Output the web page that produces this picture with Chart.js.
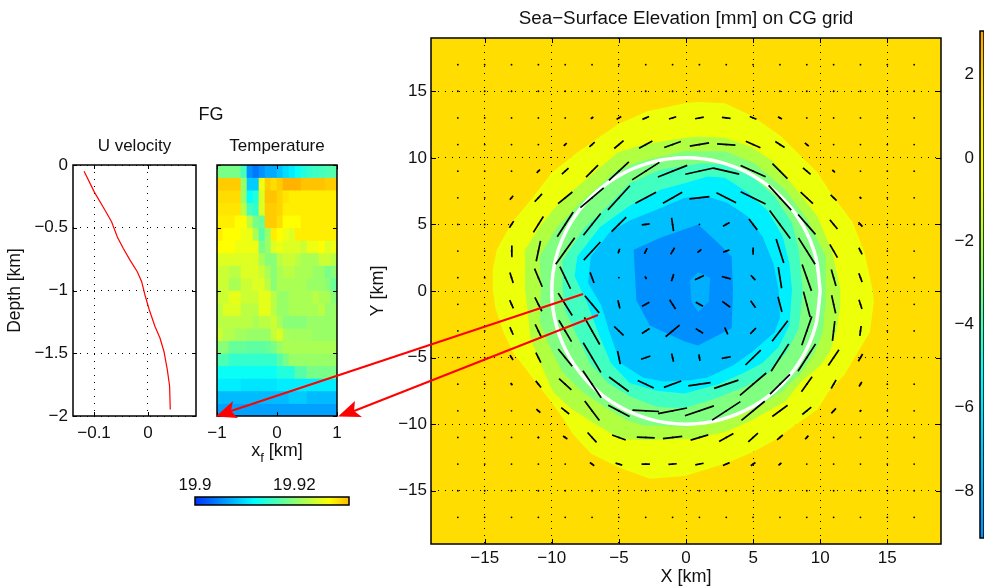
<!DOCTYPE html>
<html>
<head>
<meta charset="utf-8">
<title>Sea-Surface Elevation</title>
<script src="https://cdn.jsdelivr.net/npm/chart.js@4"></script>
<style>
  html, body { margin: 0; padding: 0; background: #fff; overflow: hidden; }
  #page { position: relative; width: 984px; height: 588px; font-family: 'Liberation Sans', sans-serif; color: #111; }
  #page canvas { position: absolute; left: 0; top: 0; }
  .label { position: absolute; font-size: 18px; line-height: 20px; white-space: nowrap; transform: translateX(-50%); }
  .label sub { font-size: 13px; line-height: 0; vertical-align: -6px; }
</style>
</head>
<body>
<div id="page">
  <canvas id="profile" width="984" height="588"></canvas>
  <canvas id="section" width="984" height="588"></canvas>
  <canvas id="sectionBar" width="984" height="588"></canvas>
  <canvas id="surface" width="984" height="588"></canvas>
  <canvas id="surfaceBar" width="984" height="588"></canvas>
  <canvas id="arrows" width="984" height="588"></canvas>
  <div class="label" style="left:211px; top:104px;">FG</div>
  <div class="label" style="left:277px; top:440px;">x<sub>f</sub> [km]</div>
</div>

<script>
// Tick labels
const surfaceTicks  = [-15, -10, -5, 0, 5, 10, 15];
const surfaceBarTicks = [-8, -6, -4, -2, 0, 2];
const depthTicks    = [-2, -1.5, -1, -0.5, 0];
const velocityTicks = [-0.1, 0];
const sectionTicks  = [-1, 0, 1];
const sectionBarTicks = [19.9, 19.92];

// U velocity profile
const velocityU = [-0.1185, -0.0994, -0.0796, -0.0673, -0.0568, -0.0457, -0.0333, -0.0198, -0.0117, -0.0056, 0.0025, 0.013, 0.0222, 0.0296, 0.0358, 0.0401, 0.0413];
const velocityZ = [-0.05, -0.216, -0.361, -0.454, -0.573, -0.665, -0.758, -0.851, -0.93, -1.036, -1.155, -1.287, -1.379, -1.486, -1.631, -1.763, -1.948];

// Temperature section, 1e-3 degrees above 19.9, top row first
const sectionX = [-0.95, -0.85, -0.75, -0.65, -0.55, -0.45, -0.35, -0.25, -0.15, -0.05, 0.05, 0.15, 0.25, 0.35, 0.45, 0.55, 0.65, 0.75, 0.85, 0.95];
const rowThickness = -0.1;
const sectionRows = [
  [19, 19, 19, 19, 16, 5.5, 4, 5.5, 7, 7, 8.5, 10, 11, 12.5, 14, 15, 15.5, 16, 16.5, 17],
  [30, 30, 30, 30, 21, 9, 9, 26, 30, 29, 30, 31.5, 31.5, 31.5, 30.5, 30.5, 30.5, 30.5, 30, 30],
  [29, 29, 29, 29, 21, 12, 14, 25, 30.5, 30.5, 29.5, 28.5, 28, 28, 28, 28, 28, 28, 28, 28],
  [28.5, 28.5, 28.5, 28.5, 23, 16, 15, 25, 30, 30, 29.5, 28, 28, 28, 28, 28, 28, 28, 28, 28],
  [28, 28, 28, 27, 27, 23, 19, 18, 30, 30, 29, 27, 27, 27, 28, 28, 28, 28, 28, 28],
  [28, 27, 27, 27, 26, 26, 22, 17, 21, 28, 27, 26, 25, 28, 28, 28, 28, 28, 28, 28],
  [27, 27, 27, 26, 26, 26, 26, 19, 21, 25, 26, 25, 25, 25, 24, 26, 26, 27, 25, 26],
  [25, 25, 25, 25, 25, 25, 25, 22, 20, 20, 23, 24, 24, 23, 22, 22, 22, 24, 24, 23],
  [24, 24, 23, 23, 25, 25, 25, 24, 22, 20, 22, 23, 23, 22, 22, 22, 21, 21, 19, 20],
  [24, 24, 22, 22, 24, 24, 25, 25, 23, 20, 22, 22, 22, 22, 22, 21, 21, 21, 20, 18],
  [24, 24, 25.5, 25.5, 24, 24, 24, 25.5, 25.5, 23, 21, 21, 22, 22, 22, 22, 23, 22, 22, 20],
  [23, 25, 25, 25, 23, 23, 23, 25.5, 25.5, 23, 21, 21, 22, 22, 22, 22, 22, 23, 21, 21],
  [23, 23, 23, 23, 23, 23, 22, 23, 23, 24, 22, 20, 20, 20, 20, 21, 21, 21, 21, 21],
  [24, 22.5, 22.5, 21.5, 21.5, 21, 21, 21, 21, 23.5, 25, 22, 21.5, 21.5, 21.5, 21.5, 21, 21, 21, 21],
  [20, 20, 18, 18, 18, 17.5, 17.5, 17.5, 18, 19, 21, 22, 22, 22, 22, 22, 22, 22, 22, 22],
  [16.5, 16.5, 15, 15, 15, 15, 15, 15, 15, 15, 17, 19, 21, 21, 21, 21, 21, 21, 21, 21],
  [12.5, 12.5, 12.5, 12.5, 12.5, 12.5, 12.5, 12.5, 12.5, 12.5, 14, 14, 14, 17, 17, 19, 19, 19, 19, 19],
  [11, 11, 11, 11, 10.5, 10.5, 10.5, 10.5, 10.5, 10.5, 11, 11, 11, 11, 11, 11, 11, 11, 11, 11],
  [8, 8, 8, 8, 8, 8, 8, 8, 8, 8, 8, 8, 9, 9, 9, 8, 8, 8, 8, 8],
  [6.5, 6.5, 6.5, 6.5, 6.5, 6.5, 6.5, 6.5, 6.5, 6.5, 6.5, 6.5, 6.5, 6.5, 6.5, 6.5, 6.5, 6.5, 6.5, 6.5],
];
const sectionBarStops = [0, 3, 6, 9, 12, 15, 18, 21, 24, 27, 29, 31];

// Filled contours of sea-surface elevation, outermost first: [x km, y km]
const contourYellow = [[-14.4,0.1],[-14.4,1.6],[-14.1,3.1],[-13,5.1],[-11.6,6.8],[-10,8.9],[-8.1,10.4],[-5.1,12.5],[-2.9,13.5],[-0.1,14.1],[0.9,14.2],[2.9,14.1],[5,13.1],[7.1,11.6],[8.6,10.1],[9.8,8.9],[10.9,7.2],[12.4,5.2],[13.3,2.9],[13.9,0.1],[14,-0.8],[13.7,-3.1],[12.8,-4.6],[11.8,-6.3],[10.6,-7.6],[9.8,-8.9],[8.1,-10.1],[6.6,-11.2],[5,-12.1],[3.1,-12.9],[0.9,-13.6],[-0.1,-13.9],[-2.7,-14.1],[-4.9,-13.3],[-7.1,-12.2],[-8.4,-10.8],[-9.2,-9.5],[-10.3,-8],[-11.6,-6.3],[-12.9,-4.6],[-13.6,-3.1],[-14.2,-1.3]];
const contourLime = [[-12,0.1],[-12,3.1],[-10.9,4.8],[-9.9,6.1],[-8.6,7.4],[-6.6,9.1],[-5.1,10.4],[-3.2,11],[-0.1,11.5],[0.9,11.6],[2.9,11.5],[4.9,10.8],[6.4,9.8],[8.1,7.8],[9.8,5.6],[10.9,2.9],[11.5,0.1],[11.5,-1.1],[11.2,-3.1],[10.7,-4.6],[10,-5.6],[8.6,-6.8],[7.4,-8.3],[4.9,-9.7],[2.9,-10.6],[0.3,-11.1],[-3.2,-11.2],[-4.9,-11.1],[-6.6,-10.1],[-8.6,-8.8],[-9.9,-7.6],[-10.9,-5.3],[-11.6,-3.5],[-11.8,-1.4]];
const contourGreen = [[-10.8,0.1],[-10.9,2.6],[-9.6,4.8],[-7.9,6.6],[-5.1,9.1],[-3.2,9.8],[-0.1,10.5],[2.9,10.5],[5.1,9.6],[7.4,7.6],[9.1,5.3],[10.4,2.6],[10.4,0.1],[10.4,-0.8],[10.2,-3.1],[9.6,-4.6],[8.6,-6.1],[7.1,-7.6],[5.1,-8.8],[2.4,-9.8],[-0.1,-10.2],[-3.2,-10.1],[-4.4,-9.7],[-5.9,-8.8],[-7.7,-7.6],[-9.2,-6.1],[-10.1,-4.3],[-10.9,-2.3]];
const contourTeal = [[-9.2,0.1],[-9.2,2.3],[-7.5,4.8],[-5.9,6.3],[-4.2,8.1],[-1.9,9.1],[-0.1,9.4],[1.4,9.6],[2.9,9.5],[4.9,8.6],[6.6,7.1],[7.9,5.1],[8.4,3.1],[8.7,0.1],[8.4,-2.8],[7.5,-4.6],[6.2,-6.1],[4.6,-7.1],[2.4,-8],[-0.1,-8.8],[-2.2,-8.7],[-4.2,-7.9],[-5.8,-6.9],[-7.1,-5.5],[-8.2,-3.2],[-9,-1.5]];
const contourCyan = [[-8.3,1.1],[-8.1,2.6],[-6.4,4.8],[-4.2,6.4],[-1.9,7.6],[-0.1,8.1],[1.6,8.6],[2.9,8.5],[4.6,7.4],[6.1,6],[7.2,4.1],[7.7,2.1],[7.9,0.1],[7.7,-2.6],[6.9,-4.2],[5.7,-5.4],[4.2,-6.2],[2.4,-7],[-0.1,-7.7],[-2.2,-7.5],[-4.2,-6.9],[-5.6,-5.4],[-6.4,-3.5],[-7.4,-0.8]];
const contourSky = [[-7.3,0.6],[-7.1,2.6],[-5.7,4.4],[-4.2,5.3],[-2.2,6.1],[-0.1,7],[1.6,7.1],[3.1,6.6],[4.6,5.6],[5.7,4.1],[6.5,2.1],[6.9,0.1],[7,-2],[6.6,-3.1],[4.9,-4.6],[3.5,-5.6],[1.6,-6.5],[0.3,-6.7],[-1.7,-6.8],[-3.2,-6.5],[-4.9,-5.4],[-5.7,-3.1],[-6.3,-1.1]];
const contourDeep = [[-3.9,3.1],[-1.9,4],[0.9,5],[2.4,3.6],[3.4,2.6],[3.5,0.1],[3.4,-2.8],[0.9,-4.1],[-0.1,-3.8],[-2.7,-2.6],[-3.7,-0.7]];
const contourHole = [[0.3,0.8],[0.9,1.4],[1.8,1],[1.7,-0.8],[0.9,-1.6],[0.4,-0.8]];

// Velocity sticks on the CG grid, centred on each grid point
const quiverGrid = [-17, -15, -13, -11, -9, -7, -5, -3, -1, 1, 3, 5, 7, 9, 11, 13, 15, 17];
const quiverX = [-13, -11, -9, -7, -5, -3, -1, 1, 3, 5, 7, 9, 11, 13];
const quiverY = [13, 11, 9, 7, 5, 3, 1, -1, -3, -5, -7, -9, -11, -13];
const quiverScale = 0.0248;
const quiverU = [
  [0, 0, 0, 8, 14, 20, 22, 26, 26, 20, 12, 0, 0, 0],
  [0, 0, 9, 16, 28, 40, 50, 58, 55, 44, 28, 12, 0, 0],
  [0, 10, 20, 36, 60, 82, 88, 85, 78, 75, 45, 23, 8, 0],
  [10, 22, 43, 70, 66, 62, 58, 60, 59, 75, 68, 37, 18, 5],
  [13, 30, 48, 52, 44, 24, 6, 0, 20, 25, 62, 52, 23, 12],
  [2, 13, 57, 50, 5, 8, 12, 12, 19, 0, 23, 50, 23, 10],
  [10, 23, 32, 12, 0, 5, 7, 27, 27, 14, 10, 28, 14, 10],
  [11, 21, 42, 43, 6, 22, 18, 22, 24, 15, 12, 20, 12, 9],
  [10, 19, 38, 46, 28, 23, 42, 22, 9, 17, 47, 30, 7, 4],
  [9, 15, 42, 53, 8, 28, 6, 3, 27, 46, 53, 53, 32, 13],
  [5, 16, 37, 55, 59, 48, 52, 67, 73, 79, 60, 32, 15, 8],
  [0, 12, 24, 44, 64, 80, 87, 87, 85, 70, 46, 27, 14, 4],
  [0, 4, 13, 27, 41, 54, 58, 53, 43, 29, 17, 10, 0, 0],
  [0, 0, 0, 13, 20, 25, 25, 25, 20, 14, 9, 0, 0, 0],
];
const quiverV = [
  [0, 0, 0, 5, 9, 9, 7, 5, -3, -8, -7, 0, 0, 0],
  [0, 0, 8, 14, 24, 22, 18, 10, -4, -20, -18, -10, 0, 0],
  [0, 10, 18, 36, 56, 53, 35, 19, -18, -34, -45, -20, -8, 0],
  [12, 24, 35, 60, 73, 33, 33, 7, -30, -37, -75, -35, -17, -5],
  [20, 48, 75, 66, 44, 3, -40, 0, 11, -33, -85, -60, -28, -13],
  [33, 62, 80, 55, 14, 17, 20, 10, 7, -22, -73, -80, -40, -20],
  [-32, -55, -67, -32, 0, -8, 22, 13, -7, -15, -64, -80, -50, -27],
  [-25, -42, -68, -52, -25, 12, -28, -12, -18, -21, -46, -77, -55, -28],
  [-23, -40, -65, -82, -27, 15, 35, -14, -21, 18, 62, 87, 60, 30],
  [-15, -30, -52, -90, -40, 10, -25, -20, 5, 45, 83, 83, 48, 22],
  [-7, -20, -34, -82, -44, -23, 19, 10, 25, 68, 60, 45, 26, 14],
  [0, -11, -19, -59, -34, -4, 17, 30, 56, 58, 34, 22, 15, 6],
  [0, -4, -9, -30, -15, -2, 7, 16, 24, 26, 15, 11, 0, 0],
  [0, 0, 0, -10, -6, 0, 2, 5, 9, 10, 8, 0, 0, 0],
];

// White ring at 10 km
const ringX = [10, 9.66, 8.66, 7.07, 5, 2.59, 0, -2.59, -5, -7.07, -8.66, -9.66, -10, -9.66, -8.66, -7.07, -5, -2.59, 0, 2.59, 5, 7.07, 8.66, 9.66, 10];
const ringY = [0, 2.59, 5, 7.07, 8.66, 9.66, 10, 9.66, 8.66, 7.07, 5, 2.59, 0, -2.59, -5, -7.07, -8.66, -9.66, -10, -9.66, -8.66, -7.07, -5, -2.59, 0];

// Red arrows, in km of the surface panel
const arrowLineA = [[-7.67, -0.23], [-33.88, -9.02]];
const arrowLineB = [[-6.55, -1.8], [-24.72, -9.02]];
const arrowHeadA = [[-35, -9.44], [-33.73, -8.27], [-33.88, -9.02], [-33.36, -9.55]];
const arrowHeadB = [[-25.91, -9.44], [-24.65, -8.27], [-24.72, -9.02], [-24.13, -9.47]];

// Colour bar of the surface panel
const surfaceBarRange  = [-9.13, 3.05];
const surfaceBarValues = [-9.13, -6.5, -5.2, -3, -0.5, 1, 2, 3.05];
const surfaceBarColors = ['#0090ff', '#00d8ff', '#00ffff', '#80ff80', '#f0ff00', '#ffee00', '#ffd000', '#ffa000'];

// Helpers
const FONT = "'Liberation Sans', sans-serif";
Chart.defaults.font.family = FONT;
Chart.defaults.font.size = 17;
Chart.defaults.color = '#111';
Chart.defaults.animation = false;
Chart.defaults.events = [];
Chart.defaults.plugins.legend.display = false;
Chart.defaults.plugins.tooltip.enabled = false;

const minus = v => String(v).replace('-', '\u2212');
const xy = pts => pts.map(([x, y]) => ({ x, y }));
const zip = (xs, ys) => xs.map((x, i) => ({ x, y: ys[i] }));

function clamp01(v) { return Math.max(0, Math.min(1, v)); }

// Map a temperature anomaly to the picture's jet colours
function jet(n) {
  const t = 0.375 + (n - 12) * 0.01667;
  const ch = c => Math.round(255 * clamp01(1.5 - Math.abs(4 * t - c)));
  return `rgb(${ch(3)},${ch(2)},${ch(1)})`;
}

function fixedTicks(values) {
  return scale => { scale.ticks = values.map(value => ({ value })); };
}

// Box with inward ticks on all four sides, the way MATLAB axes look
const boxPlugin = {
  id: 'box',
  beforeDraw(chart, args, opts) {
    if (!opts.fill) return;
    const { ctx, chartArea: a } = chart;
    ctx.save();
    ctx.fillStyle = opts.fill;
    ctx.fillRect(a.left, a.top, a.width, a.height);
    ctx.restore();
  },
  afterDatasetsDraw(chart, args, opts) {
    if (opts.hidden) return;
    const { ctx, chartArea: a, scales } = chart;
    const len = opts.tick === undefined ? 4 : opts.tick;
    ctx.save();
    ctx.strokeStyle = '#000';
    ctx.lineWidth = 1;
    ctx.beginPath();
    if (len) {
      scales.x.ticks.forEach(t => {
        const px = Math.round(scales.x.getPixelForValue(t.value)) + 0.5;
        ctx.moveTo(px, a.top); ctx.lineTo(px, a.top + len);
        ctx.moveTo(px, a.bottom); ctx.lineTo(px, a.bottom - len);
      });
      scales.y.ticks.forEach(t => {
        const py = Math.round(scales.y.getPixelForValue(t.value)) + 0.5;
        ctx.moveTo(a.left, py); ctx.lineTo(a.left + len, py);
        ctx.moveTo(a.right, py); ctx.lineTo(a.right - len, py);
      });
    }
    ctx.stroke();
    ctx.lineWidth = 1.5;
    ctx.strokeRect(a.left, a.top, a.width, a.height);
    ctx.restore();
  },
};
Chart.register(boxPlugin);

const dottedGrid = { color: '#000', lineWidth: 1, drawTicks: false };
const dottedBorder = { display: false, dash: [1, 6] };
const noGrid = { display: false, drawTicks: false };
const titleFont = { size: 17, weight: 'normal' };

function gradientFill(values, colors, horizontal) {
  return ctx => {
    const a = ctx.chart.chartArea;
    if (!a) return colors[0];
    const min = values[0], max = values[values.length - 1];
    const g = horizontal
      ? ctx.chart.ctx.createLinearGradient(a.left, 0, a.right, 0)
      : ctx.chart.ctx.createLinearGradient(0, a.bottom, 0, a.top);
    values.forEach((v, i) => g.addColorStop((v - min) / (max - min), colors[i]));
    return g;
  };
}

// U velocity panel
new Chart(document.getElementById('profile'), {
  type: 'scatter',
  data: {
    datasets: [{
      data: zip(velocityU, velocityZ),
      showLine: true,
      borderColor: '#ff0000',
      borderWidth: 1.2,
      pointRadius: 0,
    }],
  },
  options: {
    responsive: false,
    layout: { padding: { left: 4.2, top: 135.8, right: 788, bottom: 144 } },
    plugins: {
      title: { display: true, text: 'U velocity', fullSize: false, font: titleFont, padding: { top: 0, bottom: 8.8 } },
    },
    scales: {
      x: {
        min: -0.139, max: 0.089,
        afterBuildTicks: fixedTicks(velocityTicks),
        afterFit: s => { s.height = 28; },
        grid: dottedGrid, border: dottedBorder,
        ticks: { padding: 7, maxRotation: 0, callback: minus },
      },
      y: {
        min: -2, max: 0,
        afterBuildTicks: fixedTicks(depthTicks),
        afterFit: s => { s.width = 68.8; },
        grid: dottedGrid, border: dottedBorder,
        title: { display: true, text: 'Depth [km]', font: { size: 17.5 }, padding: 0 },
        ticks: { padding: 5, callback: minus },
      },
    },
  },
});

// Temperature panel: one stacked bar dataset per depth row
new Chart(document.getElementById('section'), {
  type: 'bar',
  data: {
    datasets: sectionRows.map(row => ({
      data: sectionX.map(x => ({ x, y: rowThickness })),
      backgroundColor: row.map(jet),
      barPercentage: 1,
      categoryPercentage: 1,
      borderWidth: 0,
    })),
  },
  options: {
    responsive: false,
    layout: { padding: { left: 217, top: 135.8, right: 647, bottom: 144 } },
    plugins: {
      title: { display: true, text: 'Temperature', fullSize: false, font: titleFont, padding: { top: 0, bottom: 8.8 } },
    },
    scales: {
      x: {
        type: 'linear', stacked: true, offset: false,
        min: -1, max: 1,
        afterBuildTicks: fixedTicks(sectionTicks),
        afterFit: s => { s.height = 28; },
        grid: noGrid, border: { display: false },
        ticks: { padding: 7, maxRotation: 0, callback: minus },
      },
      y: {
        stacked: true,
        min: -2, max: 0,
        afterBuildTicks: fixedTicks(depthTicks),
        afterFit: s => { s.width = 0; },
        grid: noGrid, border: { display: false },
        ticks: { display: false },
      },
    },
  },
});

// Temperature colour bar
new Chart(document.getElementById('sectionBar'), {
  type: 'bar',
  data: {
    labels: ['T'],
    datasets: [{
      data: [[19.9, 19.931]],
      backgroundColor: gradientFill(sectionBarStops, sectionBarStops.map(jet), true),
      barPercentage: 1,
      categoryPercentage: 1,
    }],
  },
  options: {
    responsive: false,
    indexAxis: 'y',
    layout: { padding: { left: 195, top: 470, right: 635, bottom: 83 } },
    plugins: { box: { tick: 0 } },
    scales: {
      x: {
        position: 'top',
        min: 19.9, max: 19.931,
        afterBuildTicks: fixedTicks(sectionBarTicks),
        afterFit: s => { s.height = 27; },
        grid: noGrid, border: { display: false },
        ticks: { padding: 1, maxRotation: 0, autoSkip: false, callback: v => String(v) },
      },
      y: { display: false },
    },
  },
});

// Sea-surface elevation panel. First dataset is drawn on top.
const contourStyle = color => ({
  backgroundColor: color,
  borderWidth: 0,
  showLine: true,
  pointRadius: 0,
  fill: 'shape',
  indexAxis: 'y',
});

const quiverSegments = [];
quiverY.forEach((cy, r) => {
  quiverX.forEach((cx, c) => {
    const dx = quiverU[r][c] * quiverScale / 2;
    const dy = quiverV[r][c] * quiverScale / 2;
    if (dx === 0 && dy === 0) return;
    quiverSegments.push({ x: cx - dx, y: cy - dy }, { x: cx + dx, y: cy + dy }, { x: NaN, y: NaN });
  });
});

const quiverCentres = [];
quiverGrid.forEach(y => quiverGrid.forEach(x => quiverCentres.push({ x, y })));

new Chart(document.getElementById('surface'), {
  type: 'scatter',
  data: {
    datasets: [
      { data: quiverCentres, pointRadius: 0.9, backgroundColor: '#000', borderWidth: 0 },
      { data: quiverSegments, showLine: true, borderColor: '#000', borderWidth: 1.7, pointRadius: 0 },
      { data: zip(ringX, ringY), showLine: true, borderColor: '#fff', borderWidth: 3.5, pointRadius: 0, tension: 0.33 },
      { data: xy(contourHole), ...contourStyle('#00afff') },
      { data: xy(contourDeep), ...contourStyle('#008fff') },
      { data: xy(contourSky), ...contourStyle('#00bfff') },
      { data: xy(contourCyan), ...contourStyle('#00efff') },
      { data: xy(contourTeal), ...contourStyle('#40ffc0') },
      { data: xy(contourGreen), ...contourStyle('#80ff80') },
      { data: xy(contourLime), ...contourStyle('#b0ff40') },
      { data: xy(contourYellow), ...contourStyle('#eeff0a') },
    ],
  },
  options: {
    responsive: false,
    layout: { padding: { left: 367, top: 7.7, right: 43, bottom: 0 } },
    plugins: {
      box: { fill: '#ffdd00', tick: 5 },
      title: { display: true, text: 'Sea\u2212Surface Elevation [mm] on CG grid', fullSize: false, font: { size: 18.8, weight: 'normal' }, padding: { top: 0, bottom: 7.74 } },
    },
    scales: {
      x: {
        min: -19, max: 19,
        afterBuildTicks: fixedTicks(surfaceTicks),
        afterFit: s => { s.height = 44; },
        grid: dottedGrid, border: dottedBorder,
        title: { display: true, text: 'X [km]', font: { size: 18 }, padding: 0 },
        ticks: { padding: 4, maxRotation: 0, callback: minus },
      },
      y: {
        min: -19, max: 19,
        afterBuildTicks: fixedTicks(surfaceTicks),
        afterFit: s => { s.width = 64; },
        grid: dottedGrid, border: dottedBorder,
        title: { display: true, text: 'Y [km]', font: { size: 18 }, padding: 0 },
        ticks: { padding: 4, callback: minus },
      },
    },
  },
});

// Surface colour bar, cut by the right edge of the page
new Chart(document.getElementById('surfaceBar'), {
  type: 'bar',
  data: {
    labels: ['E'],
    datasets: [{
      data: [surfaceBarRange],
      backgroundColor: gradientFill(surfaceBarValues, surfaceBarColors, false),
      barPercentage: 1,
      categoryPercentage: 1,
    }],
  },
  options: {
    responsive: false,
    layout: { padding: { left: 940, top: 31, right: 0, bottom: 50 } },
    plugins: { box: { tick: 0 } },
    scales: {
      x: { display: false },
      y: {
        min: surfaceBarRange[0], max: surfaceBarRange[1],
        afterBuildTicks: fixedTicks(surfaceBarTicks),
        afterFit: s => { s.width = 40; },
        grid: noGrid, border: { display: false },
        ticks: { padding: 6, callback: minus },
      },
    },
  },
});

// Arrows run from the surface panel to the corners of the temperature panel,
// so this layer extends the surface panel's km axes over the whole page.
new Chart(document.getElementById('arrows'), {
  type: 'scatter',
  data: {
    datasets: [
      { data: xy(arrowHeadA), ...contourStyle('#ff0000') },
      { data: xy(arrowHeadB), ...contourStyle('#ff0000') },
      { data: xy(arrowLineA), showLine: true, borderColor: '#ff0000', borderWidth: 2, pointRadius: 0 },
      { data: xy(arrowLineB), showLine: true, borderColor: '#ff0000', borderWidth: 2, pointRadius: 0 },
    ],
  },
  options: {
    responsive: false,
    plugins: { box: { hidden: true } },
    scales: {
      x: { display: false, min: -51.08, max: 22.19 },
      y: { display: false, min: -22.33, max: 21.88 },
    },
  },
});
</script>
</body>
</html>
